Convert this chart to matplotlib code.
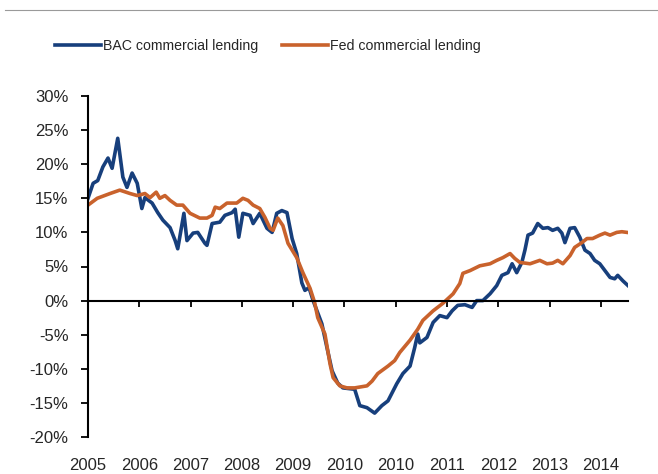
import matplotlib
matplotlib.use("Agg")
import matplotlib.pyplot as plt
from matplotlib.lines import Line2D
from matplotlib.ticker import FuncFormatter

plt.rcParams['font.family'] = ['Liberation Sans', 'DejaVu Sans']

# positions in tick units (0 = first "2005" tick), values in percent
bac_x = [0.00, 0.10, 0.19, 0.29, 0.39, 0.47, 0.58, 0.68, 0.76, 0.86, 0.96, 1.05, 1.11,
         1.25, 1.36, 1.46, 1.60, 1.70, 1.75, 1.87, 1.93, 2.05, 2.14, 2.28, 2.32, 2.42,
         2.57, 2.67, 2.81, 2.87, 2.94, 3.02, 3.16, 3.22, 3.35, 3.49, 3.59, 3.68, 3.78,
         3.88, 3.98, 4.07, 4.17, 4.23, 4.31, 4.39, 4.56, 4.66, 4.76, 4.87, 4.97, 5.20,
         5.30, 5.44, 5.59, 5.73, 5.85, 6.02, 6.14, 6.28, 6.37, 6.43, 6.47, 6.61, 6.73,
         6.86, 7.00, 7.10, 7.21, 7.35, 7.49, 7.58, 7.70, 7.84, 7.97, 8.07, 8.19, 8.27,
         8.36, 8.46, 8.52, 8.58, 8.67, 8.77, 8.87, 8.97, 9.06, 9.16, 9.24, 9.30, 9.40,
         9.49, 9.59, 9.69, 9.79, 9.88, 9.98, 10.08, 10.18, 10.27, 10.33, 10.43, 10.53]
bac_y = [15.0, 17.2, 17.6, 19.6, 20.9, 19.4, 23.8, 18.1, 16.6, 18.7, 17.2, 13.5, 15.1,
         14.3, 12.9, 11.8, 10.7, 8.8, 7.6, 12.8, 8.8, 9.9, 10.0, 8.4, 8.1, 11.3,
         11.5, 12.5, 12.9, 13.4, 9.3, 12.8, 12.5, 11.3, 12.8, 10.6, 10.0, 12.8, 13.2,
         12.9, 9.1, 6.9, 2.6, 1.5, 1.9, 0.0, -3.4, -6.9, -10.3, -12.1, -12.8, -13.0,
         -15.4, -15.7, -16.5, -15.4, -14.7, -12.2, -10.7, -9.6, -6.9, -4.9, -6.2, -5.4, -3.2,
         -2.2, -2.5, -1.5, -0.7, -0.6, -1.0, 0.0, 0.0, 1.0, 2.2, 3.7, 4.1, 5.4,
         4.1, 5.6, 7.4, 9.6, 9.9, 11.3, 10.6, 10.7, 10.3, 10.6, 9.9, 8.5, 10.6,
         10.7, 9.3, 7.4, 6.9, 5.9, 5.4, 4.4, 3.4, 3.2, 3.7, 2.9, 2.2]

fed_x = [0.00, 0.18, 0.43, 0.62, 0.82, 0.96, 1.11, 1.21, 1.33, 1.40, 1.50, 1.60, 1.73,
         1.85, 1.99, 2.18, 2.32, 2.42, 2.48, 2.57, 2.71, 2.90, 3.02, 3.12, 3.22, 3.35,
         3.45, 3.55, 3.61, 3.70, 3.80, 3.90, 4.07, 4.19, 4.33, 4.42, 4.48, 4.62, 4.72,
         4.78, 4.91, 5.05, 5.20, 5.44, 5.54, 5.65, 5.85, 5.98, 6.08, 6.28, 6.43, 6.53,
         6.73, 6.92, 7.12, 7.25, 7.31, 7.45, 7.64, 7.84, 7.97, 8.09, 8.23, 8.32, 8.42,
         8.62, 8.81, 8.95, 9.06, 9.16, 9.26, 9.40, 9.49, 9.63, 9.73, 9.84, 9.98, 10.08,
         10.18, 10.31, 10.41, 10.51]
fed_y = [14.0, 15.0, 15.7, 16.2, 15.7, 15.4, 15.7, 15.1, 15.9, 15.0, 15.4, 14.7, 14.0,
         14.0, 12.8, 12.1, 12.1, 12.5, 13.7, 13.5, 14.3, 14.3, 15.0, 14.7, 14.0, 13.5,
         12.2, 10.6, 10.3, 12.1, 11.0, 8.4, 6.3, 4.1, 1.8, -0.3, -2.5, -4.9, -9.3,
         -11.3, -12.5, -12.8, -12.8, -12.5, -11.8, -10.7, -9.6, -8.8, -7.6, -5.8, -4.2, -2.9,
         -1.5, -0.4, 1.0, 2.5, 4.0, 4.4, 5.1, 5.4, 5.9, 6.3, 6.9, 6.2, 5.6,
         5.4, 5.9, 5.4, 5.5, 5.9, 5.4, 6.6, 7.8, 8.5, 9.1, 9.1, 9.6, 9.9,
         9.6, 10.0, 10.1, 10.0]

year_labels = ['2005', '2006', '2007', '2008', '2009', '2010', '2010',
               '2011', '2012', '2013', '2014']
y_ticks = [-20, -15, -10, -5, 0, 5, 10, 15, 20, 25, 30]

blue = '#173f7c'
orange = '#c9622c'
txt = '#262626'

fig = plt.figure(figsize=(6.58, 4.74), dpi=100)
ax = fig.add_axes([88 / 658, 37 / 474, 540 / 658, 341 / 474])

ax.plot(bac_x, bac_y, color=blue, lw=2.6, label='BAC commercial lending',
        solid_joinstyle='round')
ax.plot(fed_x, fed_y, color=orange, lw=2.6, label='Fed commercial lending',
        solid_joinstyle='round')

ax.set_xlim(0, 10.53)
ax.set_ylim(-20, 30)

ax.spines['top'].set_visible(False)
ax.spines['right'].set_visible(False)
ax.spines['left'].set_linewidth(1.5)
ax.spines['bottom'].set_position(('data', 0))
ax.spines['bottom'].set_linewidth(1.5)

ax.set_xticks(range(len(year_labels)))
ax.set_xticklabels(year_labels)
ax.set_yticks(y_ticks)
ax.yaxis.set_major_formatter(FuncFormatter(lambda v, p: f'{v:.0f}%'))

ax.tick_params(axis='y', direction='out', length=5, width=1.3, pad=9,
               labelsize=12, labelcolor=txt)
ax.tick_params(axis='x', direction='out', length=4, width=1.3, pad=109,
               labelsize=12, labelcolor=txt)

fig.legend(loc='center', bbox_to_anchor=(268 / 658, 0.903), ncol=2, frameon=False,
           fontsize=10.2, handlelength=3.2, handletextpad=0.15, columnspacing=1.7,
           labelcolor=txt)

# thin grey rule at the top of the panel
fig.add_artist(Line2D([5 / 658, 1.0], [1 - 10 / 474, 1 - 10 / 474],
                      color='#9a9a9a', lw=0.8))

fig.savefig('out.png', dpi=100)
